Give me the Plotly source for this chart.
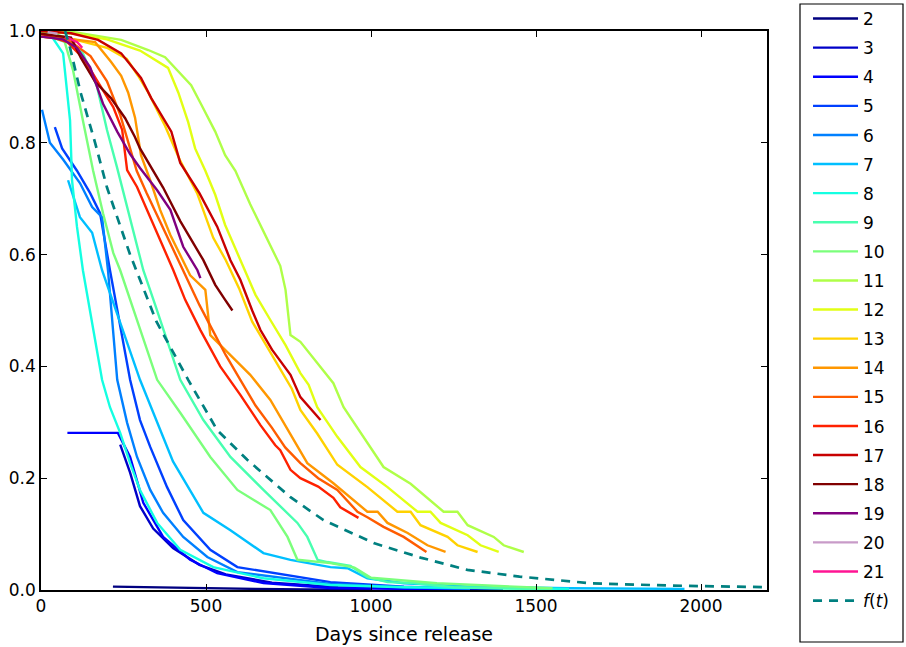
import plotly.graph_objects as go

# ---- data (days since release, surviving fraction) ----
versions = ["2", "3", "4", "5", "6", "7", "8", "9", "10", "11", "12",
            "13", "14", "15", "16", "17", "18", "19", "20", "21"]

d2 = [218, 300, 400, 500, 650, 800, 1000]
v2 = [0.006, 0.005, 0.004, 0.003, 0.002, 0.001, 0.0005]

d3 = [240, 270, 300, 340, 400, 480, 560, 700, 900, 1100, 1400]
v3 = [0.26, 0.21, 0.15, 0.11, 0.075, 0.045, 0.028, 0.013, 0.005, 0.002, 0.001]

d4 = [80, 233, 270, 310, 370, 452, 534, 674, 877, 1100, 1300]
v4 = [0.281, 0.281, 0.238, 0.156, 0.095, 0.054, 0.030, 0.0125, 0.0036, 0.002, 0.001]

d5 = [42, 64, 109, 149, 179, 209, 270, 300, 331, 382, 431, 513, 595, 877, 1100, 1300]
v5 = [0.828, 0.79, 0.75, 0.71, 0.674, 0.572, 0.376, 0.304, 0.256, 0.184, 0.125, 0.072, 0.041, 0.014, 0.006, 0.002]

d6 = [3, 27, 67, 118, 155, 185, 203, 231, 261, 291, 331, 370, 431, 504, 595, 877, 1100, 1300]
v6 = [0.859, 0.80, 0.77, 0.728, 0.685, 0.667, 0.572, 0.376, 0.299, 0.238, 0.179, 0.138, 0.095, 0.059, 0.032, 0.011, 0.005, 0.002]

d7 = [82, 118, 155, 185, 300, 400, 492, 574, 674, 756, 877, 929, 989, 1100, 1300, 1600, 1950]
v7 = [0.733, 0.667, 0.639, 0.572, 0.376, 0.23, 0.138, 0.107, 0.066, 0.054, 0.041, 0.039, 0.021, 0.012, 0.006, 0.003, 0.002]

d8 = [0, 27, 67, 88, 94, 109, 127, 185, 209, 240, 270, 300, 352, 422, 522, 674, 877, 1100, 1600]
v8 = [1.0, 0.995, 0.96, 0.84, 0.733, 0.65, 0.572, 0.376, 0.327, 0.281, 0.227, 0.179, 0.12, 0.072, 0.041, 0.021, 0.009, 0.005, 0.002]

d9 = [0, 50, 100, 127, 170, 200, 230, 261, 291, 310, 346, 382, 422, 492, 574, 674, 777, 807, 838, 868, 938, 989, 1050, 1129, 1250, 1545]
v9 = [1.0, 0.985, 0.975, 0.96, 0.9, 0.823, 0.757, 0.685, 0.614, 0.572, 0.51, 0.447, 0.376, 0.304, 0.238, 0.179, 0.12, 0.095, 0.054, 0.05, 0.043, 0.023, 0.014, 0.0125, 0.005, 0.001]

d10 = [0, 40, 67, 97, 127, 158, 188, 219, 240, 352, 422, 513, 595, 695, 747, 777, 877, 950, 1000, 1200, 1550]
v10 = [1.0, 0.995, 0.99, 0.93, 0.84, 0.75, 0.674, 0.603, 0.572, 0.376, 0.317, 0.238, 0.179, 0.143, 0.095, 0.054, 0.048, 0.04, 0.022, 0.012, 0.003]

d11 = [0, 100, 243, 325, 376, 455, 486, 528, 558, 589, 634, 680, 725, 741, 756, 786, 886, 917, 1038, 1120, 1220, 1262, 1293, 1372, 1402, 1463]
v11 = [1.0, 0.998, 0.984, 0.966, 0.953, 0.903, 0.868, 0.82, 0.778, 0.75, 0.69, 0.635, 0.58, 0.537, 0.456, 0.444, 0.37, 0.327, 0.22, 0.19, 0.14, 0.14, 0.116, 0.095, 0.08, 0.068]

d12 = [0, 100, 200, 300, 385, 416, 446, 467, 498, 528, 558, 604, 650, 695, 741, 786, 811, 837, 898, 968, 1050, 1141, 1180, 1211, 1293, 1332, 1387]
v12 = [1.0, 0.995, 0.985, 0.965, 0.934, 0.89, 0.837, 0.79, 0.75, 0.707, 0.653, 0.59, 0.528, 0.483, 0.438, 0.388, 0.367, 0.327, 0.274, 0.22, 0.184, 0.14, 0.14, 0.12, 0.098, 0.08, 0.068]

d13 = [0, 100, 200, 260, 294, 325, 376, 420, 473, 522, 560, 600, 640, 680, 720, 760, 786, 837, 898, 989, 1080, 1120, 1150, 1232, 1262, 1323]
v13 = [0.99, 0.985, 0.97, 0.95, 0.92, 0.89, 0.83, 0.77, 0.71, 0.63, 0.59, 0.54, 0.48, 0.44, 0.40, 0.36, 0.322, 0.28, 0.224, 0.184, 0.14, 0.14, 0.116, 0.095, 0.08, 0.068]

d14 = [0, 100, 164, 212, 243, 264, 285, 303, 331, 361, 392, 422, 452, 498, 513, 574, 634, 695, 756, 786, 807, 886, 989, 1020, 1050, 1111, 1171, 1226]
v14 = [0.99, 0.985, 0.98, 0.945, 0.92, 0.89, 0.845, 0.778, 0.733, 0.68, 0.635, 0.6, 0.563, 0.537, 0.456, 0.42, 0.385, 0.34, 0.277, 0.247, 0.227, 0.191, 0.14, 0.14, 0.12, 0.102, 0.08, 0.068]

d15 = [0, 80, 150, 200, 240, 270, 290, 320, 360, 400, 440, 480, 520, 560, 600, 650, 700, 740, 786, 840, 898, 959, 989, 1038, 1099, 1168]
v15 = [0.99, 0.985, 0.955, 0.91, 0.85, 0.79, 0.75, 0.71, 0.66, 0.61, 0.56, 0.51, 0.465, 0.42, 0.38, 0.33, 0.29, 0.255, 0.227, 0.2, 0.179, 0.14, 0.13, 0.113, 0.095, 0.068]

d16 = [0, 80, 130, 170, 219, 246, 261, 291, 331, 370, 401, 437, 483, 543, 604, 665, 710, 725, 756, 786, 840, 886, 907, 962]
v16 = [0.995, 0.98, 0.95, 0.912, 0.864, 0.823, 0.751, 0.721, 0.667, 0.614, 0.572, 0.519, 0.465, 0.40, 0.349, 0.295, 0.259, 0.25, 0.215, 0.20, 0.185, 0.165, 0.148, 0.129]

d17 = [0, 91, 173, 243, 303, 334, 395, 422, 480, 534, 574, 604, 640, 665, 700, 756, 786, 847]
v17 = [1.0, 0.996, 0.984, 0.96, 0.916, 0.88, 0.82, 0.764, 0.71, 0.65, 0.59, 0.555, 0.50, 0.465, 0.43, 0.385, 0.345, 0.304]

d18 = [0, 91, 121, 164, 212, 255, 285, 300, 370, 422, 492, 528, 558, 580]
v18 = [0.995, 0.988, 0.952, 0.909, 0.88, 0.844, 0.81, 0.79, 0.72, 0.66, 0.59, 0.546, 0.519, 0.50]

d19 = [0, 67, 109, 149, 188, 231, 270, 300, 352, 392, 431, 474, 483]
v19 = [0.99, 0.985, 0.97, 0.935, 0.87, 0.82, 0.78, 0.755, 0.715, 0.68, 0.614, 0.572, 0.558]

d20 = [20, 50]
v20 = [0.998, 0.995]

d21 = [73, 110, 125]
v21 = [0.99, 0.98, 0.97]

f_days = [73, 88, 120, 164, 200, 270, 350, 446, 534, 625, 756, 856, 1008, 1150, 1292, 1450, 1666, 1900, 2200]
f_vals = [1.0, 0.97, 0.89, 0.80, 0.72, 0.60, 0.48, 0.376, 0.286, 0.233, 0.166, 0.125, 0.084, 0.058, 0.036, 0.024, 0.012, 0.008, 0.005]

x_ticks = [0, 500, 1000, 1500, 2000]
y_ticks = [0.0, 0.2, 0.4, 0.6, 0.8, 1.0]
y_tick_text = ["0.0", "0.2", "0.4", "0.6", "0.8", "1.0"]

colors = ["#000080", "#0000c8", "#0000ff", "#0040ff", "#0080ff", "#00bfff",
          "#14ffe2", "#48ffaf", "#7bff7b", "#afff48", "#e2ff14", "#ffd200",
          "#ff9700", "#ff5c00", "#ff2100", "#c80000", "#800000", "#800080",
          "#c89bc8", "#ff1493"]

series = [(d2, v2), (d3, v3), (d4, v4), (d5, v5), (d6, v6), (d7, v7), (d8, v8),
          (d9, v9), (d10, v10), (d11, v11), (d12, v12), (d13, v13), (d14, v14),
          (d15, v15), (d16, v16), (d17, v17), (d18, v18), (d19, v19), (d20, v20),
          (d21, v21)]

fig = go.Figure()
for i, (name, (dx, vy)) in enumerate(zip(versions, series)):
    fig.add_trace(go.Scatter(
        x=dx, y=vy, mode="lines", name=name, legendgroup=name,
        line=dict(color=colors[i], width=2.4),
    ))
fig.add_trace(go.Scatter(
    x=f_days, y=f_vals, mode="lines",
    name="<i>f</i>(<i>t</i>)", legendgroup="f",
    line=dict(color="#008080", width=2.7, dash="9px,7px"),
))

# legend frame (matplotlib-style box, taller than its entries)
fig.add_shape(type="rect", xref="paper", yref="paper",
              x0=1.04545, x1=1.18733, y0=-0.09302, y1=1.04830,
              line=dict(color="black", width=1.2), fillcolor="rgba(0,0,0,0)",
              layer="above")

font = "DejaVu Sans, Liberation Sans, sans-serif"
fig.update_layout(
    width=906, height=647,
    margin=dict(l=41, r=139, t=31, b=57, autoexpand=False),
    paper_bgcolor="white", plot_bgcolor="white",
    font=dict(family=font, size=17, color="black"),
    showlegend=True,
    legend=dict(
        x=1.0565, y=1.0537, xanchor="left", yanchor="top",
        borderwidth=0, bgcolor="rgba(0,0,0,0)",
        font=dict(family=font, size=17, color="black"),
        tracegroupgap=4, itemwidth=45, maxheight=1.0,
    ),
    xaxis=dict(
        range=[0, 2200], tickvals=x_ticks, ticks="inside", ticklen=6,
        tickcolor="black", mirror="allticks", showline=True, linecolor="black",
        linewidth=1.5, showgrid=False, zeroline=False, automargin=False,
        title=dict(text="Days since release", font=dict(size=19), standoff=13),
        tickfont=dict(size=17),
    ),
    yaxis=dict(
        range=[0, 1.0], tickvals=y_ticks, ticktext=y_tick_text, ticks="inside",
        ticklen=6, tickcolor="black", mirror="allticks", showline=True,
        linecolor="black", linewidth=1.5, showgrid=False, zeroline=False,
        automargin=False, tickfont=dict(size=17),
    ),
)

fig.write_html("out.html", config={"displayModeBar": False},
               post_script="document.body.style.margin='0px';")
